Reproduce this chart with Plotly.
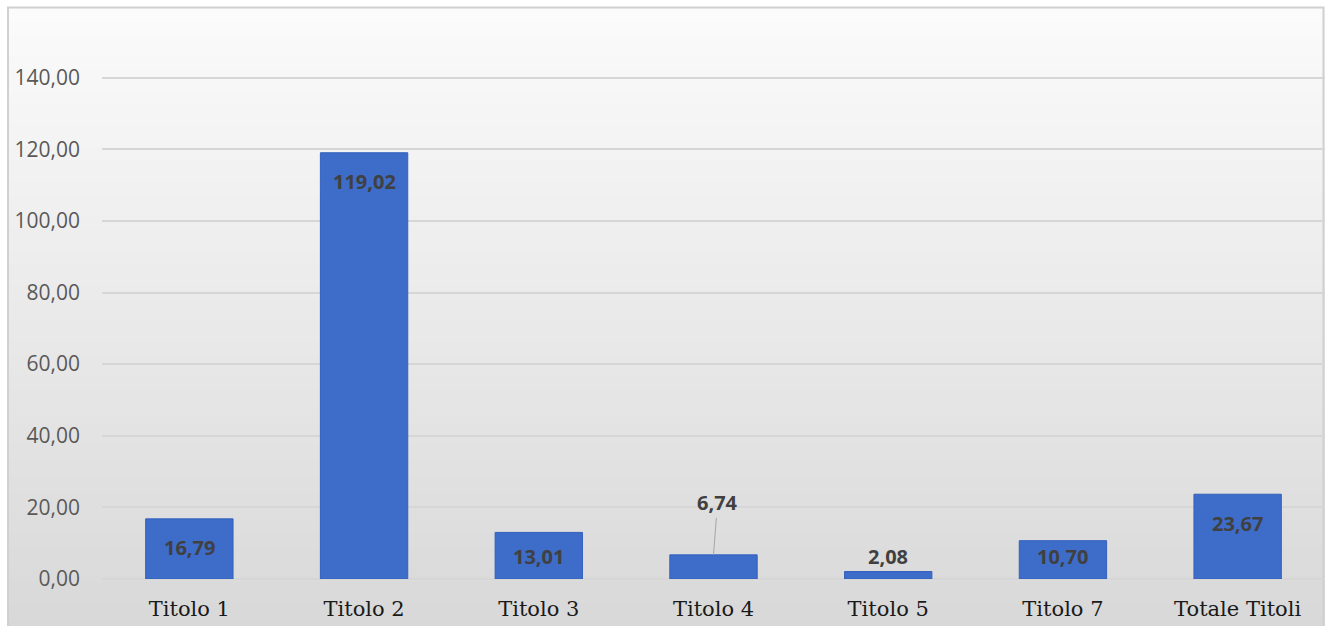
import plotly.graph_objects as go

categories = ["Titolo 1", "Titolo 2", "Titolo 3", "Titolo 4", "Titolo 5", "Titolo 7", "Totale Titoli"]
values = [16.79, 119.02, 13.01, 6.74, 2.08, 10.70, 23.67]
y_ticks = [0, 20, 40, 60, 80, 100, 120, 140]
label_modes = ["inside", "inside", "inside", "leader", "above", "inside", "inside"]

W, H = 1325, 626
ML, MR, MT, MB = 102, 0, 6, 47
plot_h = H - MT - MB
plot_w = W - ML - MR
Y_MAX = 160
ppu = plot_h / Y_MAX


def py2paper(py):
    return (H - MB - py) / plot_h


def px2paper(px):
    return (px - ML) / plot_w


fig = go.Figure()
fig.add_trace(go.Bar(
    x=categories, y=values, width=0.5,
    marker=dict(color="#3e6cc9", line=dict(color="#3360bd", width=1)),
    hoverinfo="x+y",
))

shapes = []
# gradient background for chart area (stacked bands, each to the bottom -> no seams)
N = 90
top_px, bot_px = 8, H + 5
c0, c1 = (251, 251, 251), (216, 216, 216)
for i in range(N):
    y0p = top_px + (bot_px - top_px) * i / N
    t = i / (N - 1)
    col = tuple(round(c0[k] + (c1[k] - c0[k]) * t) for k in range(3))
    shapes.append(dict(type="rect", xref="paper", yref="paper",
                       x0=px2paper(8), x1=px2paper(W + 2),
                       y0=py2paper(bot_px), y1=py2paper(y0p),
                       fillcolor="rgb(%d,%d,%d)" % col, line=dict(width=0),
                       layer="below"))
shapes.append(dict(type="rect", xref="paper", yref="paper",
                   x0=px2paper(8), x1=px2paper(W - 1.5),
                   y0=py2paper(H + 5), y1=py2paper(7.5),
                   line=dict(color="#d0d0d0", width=2), fillcolor="rgba(0,0,0,0)",
                   layer="below"))

annotations = []
for cat, v, mode in zip(categories, values, label_modes):
    txt = ("%.2f" % v).replace(".", ",")
    font = dict(family="Open Sans, sans-serif", size=20, color="#404040")
    if mode == "inside":
        ylab = max(v - 29 / ppu, 23 / ppu)
        annotations.append(dict(x=cat, y=ylab, text="<b>%s</b>" % txt, showarrow=False,
                                font=font))
    elif mode == "above":
        annotations.append(dict(x=cat, y=v, text="<b>%s</b>" % txt, showarrow=False,
                                yshift=15, font=font))
    else:
        annotations.append(dict(x=cat, y=v, text="<b>%s</b>" % txt, showarrow=True,
                                arrowhead=0, arrowwidth=1, arrowcolor="#a6a6a6",
                                ax=4, ay=-52, standoff=0, font=font))

fig.update_layout(
    width=W, height=H,
    margin=dict(l=ML, r=MR, t=MT, b=MB, pad=0),
    paper_bgcolor="white",
    plot_bgcolor="rgba(0,0,0,0)",
    separators=",.",
    showlegend=False,
    bargap=0.5,
    shapes=shapes,
    annotations=annotations,
    xaxis=dict(
        showgrid=False, showline=False, zeroline=False, ticks="",
        tickfont=dict(family="DejaVu Serif, serif", size=21, color="#1a1a1a"),
        ticklabelstandoff=15,
    ),
    yaxis=dict(
        range=[0, Y_MAX], tickvals=y_ticks, tickformat=".2f",
        showgrid=True, gridcolor="#d6d6d6", gridwidth=1.5,
        zeroline=True, zerolinecolor="#d6d6d6", zerolinewidth=1.5,
        showline=False, ticks="",
        tickfont=dict(family="Open Sans, sans-serif", size=21, color="#595959"),
        ticklabelstandoff=21,
    ),
)

fig.write_html("out.html")
